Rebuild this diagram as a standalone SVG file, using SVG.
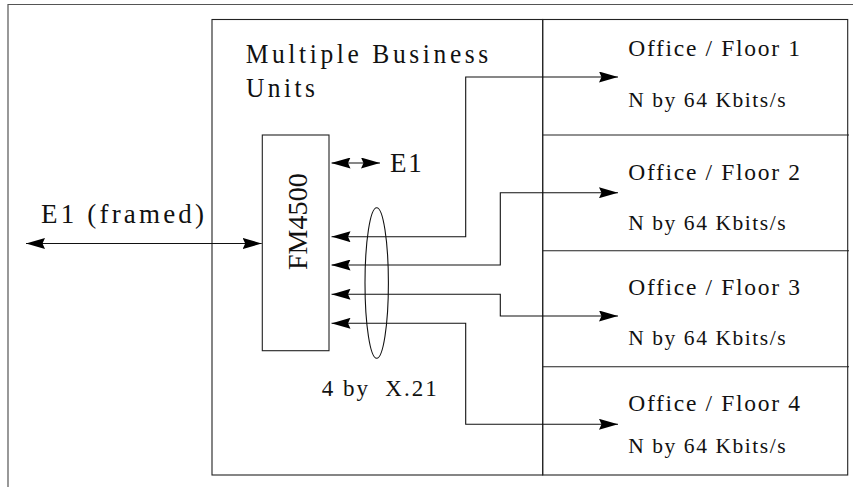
<svg xmlns="http://www.w3.org/2000/svg" width="853" height="487" viewBox="0 0 853 487">
<style>
  .frame { fill: none; stroke: #555; stroke-width: 1.2; }
  .box { fill: none; stroke: #222; stroke-width: 1.1; }
  .conn { fill: none; stroke: #111; stroke-width: 1.1; marker-start: url(#ah); marker-end: url(#ah); }
  text { font-family: "Liberation Serif", "Times New Roman", serif; fill: #111; }
</style>
<defs>
  <marker id="ah" viewBox="0 0 19 11" refX="19" refY="5.5" markerWidth="19" markerHeight="11" markerUnits="userSpaceOnUse" orient="auto-start-reverse">
    <path d="M0,0 L19,5.5 L0,11 L2.5,5.5 Z" fill="#000"/>
  </marker>
</defs>
<rect width="853" height="487" fill="#fff"/>
<path class="frame" d="M8,487 V4.5 H853"/>

<g id="business-units">
  <rect class="box" x="212" y="19.5" width="330.7" height="455.5"/>
  <text transform="translate(245.7,62.7) scale(1,1.1)" font-size="25.5" textLength="242.6" lengthAdjust="spacing">Multiple Business</text>
  <text transform="translate(246,96.7) scale(1,1.1)" font-size="25.5" textLength="69" lengthAdjust="spacing">Units</text>
</g>

<g id="fm4500">
  <rect class="box" x="262.3" y="135" width="66.7" height="215.7"/>
  <text transform="translate(306.7,270) rotate(-90)" font-size="28" textLength="96.7" lengthAdjust="spacing">FM4500</text>
</g>

<g id="offices">
  <rect class="box" x="542.7" y="19.5" width="305" height="455.5"/>
  <path class="box" d="M542.7,135 H849 M542.7,250.7 H849 M542.7,366.7 H849"/>
</g>
<g id="floor1">
  <text x="628.3" y="56" font-size="23.5" textLength="171.7" lengthAdjust="spacing">Office / Floor 1</text>
  <text x="628.3" y="106.7" font-size="21.5" textLength="157.4" lengthAdjust="spacing">N by 64 Kbits/s</text>
</g>
<g id="floor2">
  <text x="628.3" y="180" font-size="23.5" textLength="171.7" lengthAdjust="spacing">Office / Floor 2</text>
  <text x="628.3" y="230" font-size="21.5" textLength="157.4" lengthAdjust="spacing">N by 64 Kbits/s</text>
</g>
<g id="floor3">
  <text x="628.3" y="295" font-size="23.5" textLength="171.7" lengthAdjust="spacing">Office / Floor 3</text>
  <text x="628.3" y="345" font-size="21.5" textLength="157.4" lengthAdjust="spacing">N by 64 Kbits/s</text>
</g>
<g id="floor4">
  <text x="628.3" y="410.7" font-size="23.5" textLength="171.7" lengthAdjust="spacing">Office / Floor 4</text>
  <text x="628.3" y="453.3" font-size="21.5" textLength="157.4" lengthAdjust="spacing">N by 64 Kbits/s</text>
</g>

<g id="x21-bundle">
  <ellipse cx="376.7" cy="283" rx="11.7" ry="75.3" fill="none" stroke="#111" stroke-width="1.1"/>
  <text x="321.7" y="396" font-size="23" textLength="115" lengthAdjust="spacing" xml:space="preserve">4 by  X.21</text>
</g>

<g id="connectors">
  <path class="conn" d="M26,243.5 H261.7"/>
  <text x="41" y="222.5" font-size="27" textLength="163" lengthAdjust="spacing">E1 (framed)</text>
  <path class="conn" d="M331.5,163 H380"/>
  <text x="390" y="171.7" font-size="27" textLength="31.7" lengthAdjust="spacing">E1</text>
  <path class="conn" d="M331.5,236.7 H465.7 V77 H618"/>
  <path class="conn" d="M331.5,265 H500.3 V192.7 H618"/>
  <path class="conn" d="M331.5,294.3 H500.3 V316 H618"/>
  <path class="conn" d="M331.5,323.3 H465.7 V424.3 H618"/>
</g>
</svg>
